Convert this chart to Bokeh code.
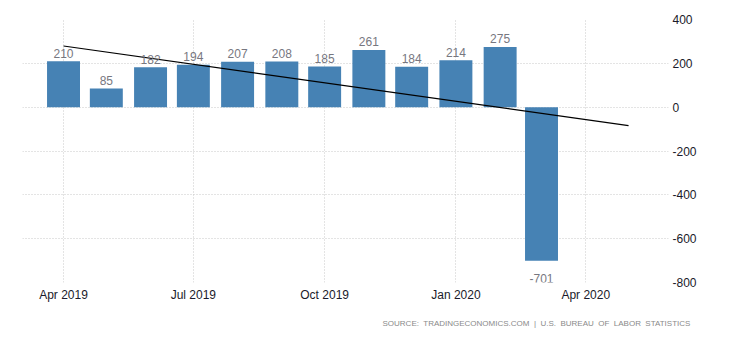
import pandas as pd
from bokeh.plotting import figure
from bokeh.models import (ColumnDataSource, FixedTicker, DatetimeTickFormatter, Range1d, Title,
                          CustomJSTickFormatter)
from bokeh.core.properties import value
from bokeh.embed import file_html
from bokeh.resources import INLINE

# ---- data ----
months = ["2019-04-01", "2019-05-01", "2019-06-01", "2019-07-01", "2019-08-01", "2019-09-01",
          "2019-10-01", "2019-11-01", "2019-12-01", "2020-01-01", "2020-02-01", "2020-03-01"]
payrolls = [210, 85, 182, 194, 207, 208, 185, 261, 184, 214, 275, -701]

trend_dates = ["2019-04-01", "2020-05-01"]
trend_values = [279, -84]

x_tick_dates = ["2019-04-01", "2019-07-01", "2019-10-01", "2020-01-01", "2020-04-01"]
y_ticks = [-800, -600, -400, -200, 0, 200, 400]
source_text = "SOURCE:\u00a0 TRADINGECONOMICS.COM\u00a0 |\u00a0 U.S.\u00a0 BUREAU\u00a0 OF\u00a0 LABOR\u00a0 STATISTICS"

FONT = "Liberation Sans"

dates = pd.to_datetime(months)
src = ColumnDataSource(dict(x=dates, top=payrolls))
pos = ColumnDataSource(dict(x=[d for d, v in zip(dates, payrolls) if v >= 0],
                            y=[v for v in payrolls if v >= 0],
                            t=[str(v) for v in payrolls if v >= 0]))
neg = ColumnDataSource(dict(x=[d for d, v in zip(dates, payrolls) if v < 0],
                            y=[v for v in payrolls if v < 0],
                            t=[str(v) for v in payrolls if v < 0]))

p = figure(width=730, height=339, x_axis_type="datetime", y_axis_location="right",
           output_backend="svg", toolbar_location=None,
           x_range=Range1d(pd.Timestamp("2019-03-03 06:00"), pd.Timestamp("2020-05-29")),
           y_range=Range1d(-800, 400),
           min_border_left=22, min_border_right=62, min_border_top=19, min_border_bottom=10)
p.outline_line_color = None
p.background_fill_color = "white"

day_ms = 86400000
p.vbar(x="x", top="top", bottom=0, width=23.1 * day_ms, source=src,
       fill_color="#4682b4", line_color=None)

p.line(pd.to_datetime(trend_dates), trend_values, line_color="black", line_width=1.2)

p.text(x="x", y="y", text="t", source=pos, text_font=value(FONT), text_font_size="12px",
       text_color="#77777f", text_align="center", text_baseline="alphabetic", y_offset=-8)
p.text(x="x", y="y", text="t", source=neg, text_font=value(FONT), text_font_size="12px",
       text_color="#77777f", text_align="center", text_baseline="alphabetic", y_offset=18)

xt = [pd.Timestamp(d).value // 10**6 for d in x_tick_dates]
p.xaxis.ticker = FixedTicker(ticks=xt)
p.xaxis.formatter = DatetimeTickFormatter(days="%b %Y", months="%b %Y", years="%b %Y")
p.yaxis.ticker = FixedTicker(ticks=y_ticks)
p.yaxis.formatter = CustomJSTickFormatter(code="return String(tick);")
for ax in (p.xaxis[0], p.yaxis[0]):
    ax.axis_line_color = None
    ax.major_tick_line_color = None
    ax.minor_tick_line_color = None
    ax.major_tick_out = 0
    ax.major_tick_in = 0
    ax.minor_tick_out = 0
    ax.minor_tick_in = 0
    ax.major_label_text_font = FONT
    ax.major_label_text_font_size = "12px"
    ax.major_label_text_color = "#1a1a2a"
p.xaxis.major_label_standoff = 5
p.yaxis.major_label_standoff = 4

p.xgrid.ticker = FixedTicker(ticks=xt)
p.ygrid.ticker = FixedTicker(ticks=y_ticks)
for g in (p.xgrid[0], p.ygrid[0]):
    g.grid_line_color = "#c8c8c8"
    g.grid_line_dash = "1 2"
    g.grid_line_width = 1

p.add_layout(Title(text=source_text, align="left", offset=360, standoff=24,
                   text_font=FONT, text_font_size="8px", text_font_style="normal",
                   text_color="#8a8a8a"), "below")

open("out.html", "w").write(file_html(p, INLINE))
